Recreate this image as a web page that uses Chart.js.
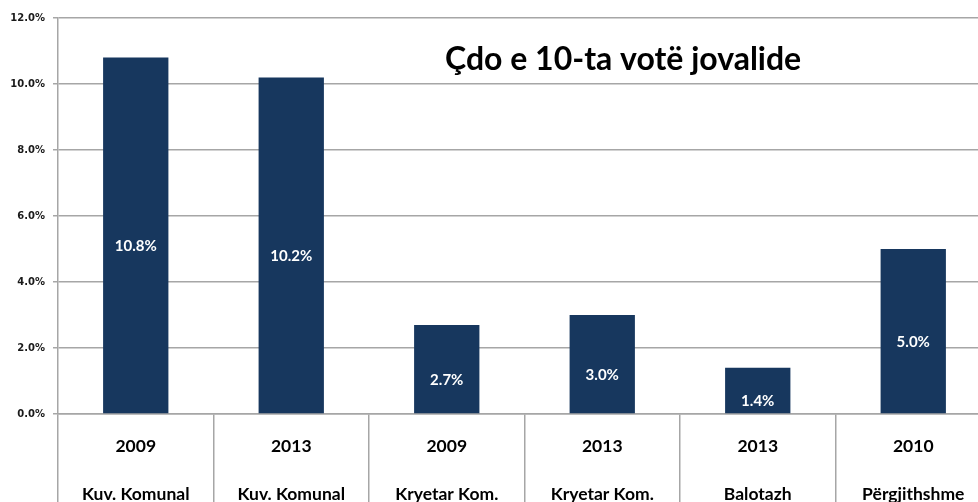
<!DOCTYPE html>
<html>
<head>
<meta charset="utf-8">
<script src="https://cdn.jsdelivr.net/npm/chart.js@4.4.0/dist/chart.umd.min.js"></script>
<style>
  html, body { margin: 0; padding: 0; background: #fff; overflow: hidden; }
  #wrap { position: relative; width: 1000px; height: 502px; }
</style>
</head>
<body>
<div id="wrap"><canvas id="c"></canvas></div>
<script>
const years = ['2009', '2013', '2009', '2013', '2013', '2010'];
const categories = ['Kuv. Komunal', 'Kuv. Komunal', 'Kryetar Kom.', 'Kryetar Kom.', 'Balotazh', 'Përgjithshme'];
const invalidShare = [10.8, 10.2, 2.7, 3.0, 1.4, 5.0];
const yTicks = [0, 2, 4, 6, 8, 10, 12];
const titleText = 'Çdo e 10-ta votë jovalide';

const barLabels = {
  id: 'barLabels',
  afterDatasetsDraw(chart) {
    const ctx = chart.ctx;
    const meta = chart.getDatasetMeta(0);
    ctx.save();
    ctx.fillStyle = '#ffffff';
    ctx.font = 'bold 15px Lato';
    ctx.textAlign = 'center';
    ctx.textBaseline = 'middle';
    meta.data.forEach((bar, i) => {
      const mid = (bar.y + bar.base) / 2 + 11;
      ctx.fillText(invalidShare[i].toFixed(1) + '%', bar.x, mid);
    });
    // title inside plot area
    ctx.fillStyle = '#000000';
    ctx.font = 'bold 32px Lato';
    ctx.textAlign = 'left';
    ctx.fillText(titleText, 445, 60);
    ctx.restore();
  }
};

new Chart(document.getElementById('c'), {
  type: 'bar',
  data: {
    labels: years.map((y, i) => [y, categories[i]]),
    datasets: [{
      data: invalidShare,
      backgroundColor: '#17375E',
      barPercentage: 0.42,
      categoryPercentage: 1.0
    }]
  },
  options: {
    responsive: true,
    maintainAspectRatio: false,
    animation: false,
    layout: { padding: { top: 18, right: 9, left: 0, bottom: 0 } },
    plugins: { legend: { display: false }, tooltip: { enabled: false } },
    scales: {
      x: {
        offset: true,
        grid: { display: true, offset: true, drawOnChartArea: false, drawTicks: true, tickLength: 88, color: '#a6a6a6', lineWidth: 1.5 },
        border: { display: true, color: '#a6a6a6', width: 1.5 },
        ticks: {
          color: '#000000',
          font: { family: 'Lato', size: 17.5, weight: 'bold', lineHeight: '48px' },
          padding: -80,
          maxRotation: 0,
          autoSkip: false
        },
        afterFit(scale) { scale.height = 88; }
      },
      y: {
        min: 0,
        max: 12,
        afterBuildTicks(scale) { scale.ticks = yTicks.map(v => ({ value: v })); },
        grid: { color: '#a6a6a6', lineWidth: 1.5, tickLength: 5 },
        border: { display: true, color: '#a6a6a6', width: 1.5 },
        ticks: {
          color: '#1a1a1a',
          font: { family: 'DejaVu Sans', size: 10, weight: 'bold' },
          padding: 8,
          callback: v => v.toFixed(1) + '%'
        },
        afterFit(scale) { scale.width = 58; }
      }
    }
  },
  plugins: [barLabels]
});
</script>
</body>
</html>
